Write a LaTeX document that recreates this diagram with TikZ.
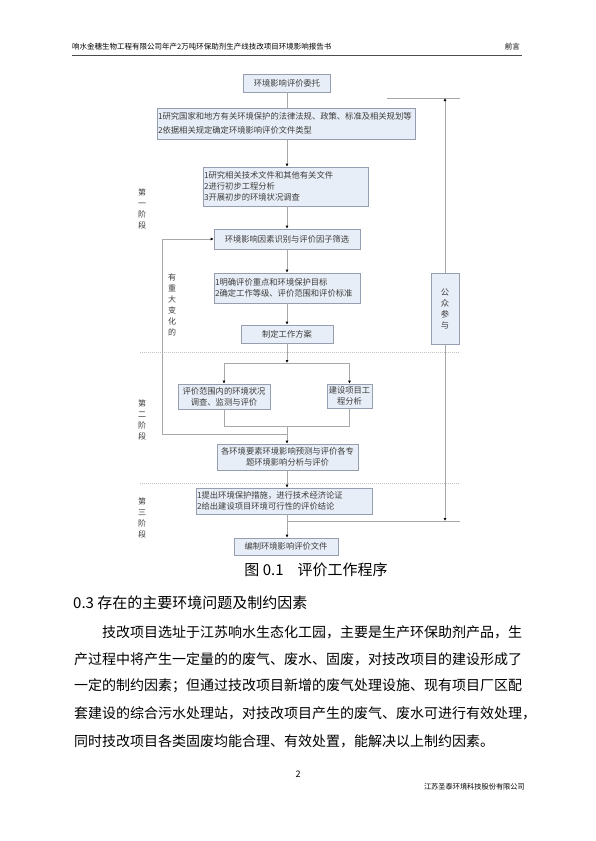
\documentclass[tikz,border=0pt]{standalone}
\usepackage{fontspec}
\setmainfont{Noto Sans CJK SC}
\usetikzlibrary{arrows.meta}
\definecolor{boxfill}{RGB}{232, 238, 247}
\definecolor{boxline}{RGB}{150, 158, 176}
\definecolor{linkgray}{RGB}{168, 168, 168}
\definecolor{textgray}{RGB}{60, 60, 60}

\begin{document}
\begin{tikzpicture}[x=1pt, y=-1pt,
	box/.style={draw=boxline, fill=boxfill, line width=0.6pt, inner sep=1pt, text=textgray, font=\fontsize{8.3}{11.2}\selectfont},
	flow/.style={draw=linkgray, line width=0.6pt, -{Latex[black, length=3pt, width=3pt]}},
	link/.style={draw=linkgray, line width=0.6pt},
	stage/.style={text=textgray, align=center, inner sep=0pt, font=\fontsize{8}{11}\selectfont},
	sep/.style={draw=linkgray!70, line width=0.4pt, dash pattern=on 1pt off 1pt},
	body/.style={anchor=west, inner sep=0pt, font=\fontsize{14}{16}\selectfont}]
	\fill[white] (0,0) rectangle (595,841);
	\useasboundingbox (0,0) rectangle (595,841);
	% Cabecera
	\node[anchor=west, inner sep=0pt, font=\fontsize{7.5}{9}\selectfont] (head) at (72,47) {响水金穗生物工程有限公司年产2万吨环保助剂生产线技改项目环境影响报告书};
	\node[anchor=east, inner sep=0pt, font=\fontsize{7.5}{9}\selectfont] (chap) at (520,47) {前言};
	\draw[black!70, line width=0.8pt] (72,55) -- (522,55);
	% Separadores de etapas
	\draw[sep] (140,352) -- (460,352);
	\draw[sep] (140,483) -- (460,483);
	% Cajas del procedimiento
	\coordinate (spine) at (287,0);
	\node[box, minimum width=87, minimum height=18] (b1) at (287,83) {环境影响评价委托};
	\node[box, minimum width=258, minimum height=31, text width=256, align=left, font=\fontsize{8.3}{13.5}\selectfont] (b2) at (286,123.5) {1研究国家和地方有关环境保护的法律法规、政策、标准及相关规划等\\2依据相关规定确定环境影响评价文件类型};
	\node[box, minimum width=165, minimum height=39, text width=163, align=left] (b3) at (285.5,186.5) {1研究相关技术文件和其他有关文件\\2进行初步工程分析\\3开展初步的环境状况调查};
	\node[box, minimum width=146, minimum height=20] (b4) at (287,239) {环境影响因素识别与评价因子筛选};
	\node[box, minimum width=146, minimum height=30, text width=144, align=left] (b5) at (287,288) {1明确评价重点和环境保护目标\\2确定工作等级、评价范围和评价标准};
	\node[box, minimum width=92, minimum height=18] (b6) at (287,334) {制定工作方案};
	\node[box, minimum width=92, minimum height=25, align=center] (b7) at (224,396.5) {评价范围内的环境状况\\调查、监测与评价};
	\node[box, minimum width=45, minimum height=24, align=center] (b8) at (349.5,396) {建设项目工\\程分析};
	\node[box, minimum width=141, minimum height=26, align=center] (b9) at (287.5,457) {各环境要素环境影响预测与评价各专\\题环境影响分析与评价};
	\node[box, minimum width=176, minimum height=26, text width=174, align=left] (b10) at (284,501) {1提出环境保护措施，进行技术经济论证\\2给出建设项目环境可行性的评价结论};
	\node[box, minimum width=104, minimum height=17] (b11) at (286,546.5) {编制环境影响评价文件};
	\node[box, minimum width=28, minimum height=71, align=center, font=\fontsize{8.3}{11}\selectfont] (pub) at (445,308.5) {公\\众\\参\\与};
	% Etiquetas laterales
	\node[stage] (s1) at (142,208.5) {第\\一\\阶\\段};
	\node[stage] (s2) at (142,420) {第\\二\\阶\\段};
	\node[stage] (s3) at (142,518) {第\\三\\阶\\段};
	\node[stage] (chg) at (172,304.5) {有\\重\\大\\变\\化\\的};
	% Conexiones
	\coordinate (split) at (287,363);
	\coordinate (merge) at (287,426);
	\coordinate (loop) at (287,434);
	\coordinate (back) at (162,434);
	\coordinate (pubtop) at (445,98);
	\coordinate (pubbot) at (445,521);
	\coordinate (topL) at (387,98);
	\coordinate (topR) at (460,98);
	\coordinate (botL) at (287,521);
	\coordinate (botR) at (460,521);
	\draw[link] (b1.south) -- (b1.south |- b2.north);
	\draw[flow] (b2.south -| spine) -- (b3.north -| spine);
	\draw[flow] (b3.south -| spine) -- (b4.north -| spine);
	\draw[flow] (b4.south -| spine) -- (b5.north -| spine);
	\draw[flow] (b5.south -| spine) -- (b6.north -| spine);
	\draw[flow] (b6.south -| spine) -- (split);
	\draw[flow] (split) -| (b7.north);
	\draw[flow] (split) -| (b8.north);
	\draw[link] (b7.south) |- (merge);
	\draw[link] (b8.south) |- (merge);
	\draw[flow] (merge) -- (b9.north -| spine);
	\draw[flow] (loop) -- (back) |- (b4.west);
	\draw[flow] (b9.south -| spine) -- (b10.north -| spine);
	\draw[flow] (b10.south -| spine) -- (b11.north -| spine);
	\draw[link] (topL) -- (topR);
	\draw[flow] (pub.north) -- (pubtop);
	\draw[link] (botL) -- (botR);
	\draw[flow] (pub.south) -- (pubbot);
	% Pie de figura y texto
	\node[inner sep=0pt, font=\fontsize{15}{17}\selectfont] (cap) at (316,570) {图 0.1\hspace{14pt}评价工作程序};
	\node[anchor=west, inner sep=0pt, font=\fontsize{15}{17}\selectfont] (sec) at (73,603) {0.3 存在的主要环境问题及制约因素};
	\node[body] (p1) at (74,632) {\hspace{28pt}技改项目选址于江苏响水生态化工园，主要是生产环保助剂产品，生};
	\node[body] (p2) at (74,659) {产过程中将产生一定量的的废气、废水、固废，对技改项目的建设形成了};
	\node[body] (p3) at (74,686) {一定的制约因素；但通过技改项目新增的废气处理设施、现有项目厂区配};
	\node[body] (p4) at (74,713) {套建设的综合污水处理站，对技改项目产生的废气、废水可进行有效处理，};
	\node[body] (p5) at (74,741) {同时技改项目各类固废均能合理、有效处置，能解决以上制约因素。};
	% Pie de página
	\node[inner sep=0pt, font=\fontsize{9}{11}\selectfont] (pnum) at (298,774) {2};
	\node[anchor=east, inner sep=0pt, font=\fontsize{7.2}{9}\selectfont] (foot) at (525,787) {江苏圣泰环境科技股份有限公司};
\end{tikzpicture}
\end{document}
